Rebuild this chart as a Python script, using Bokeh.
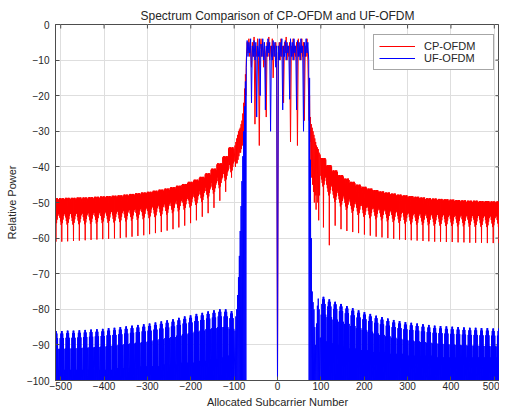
import numpy as np
from bokeh.plotting import figure
from bokeh.models import Range1d, FixedTicker, Legend, LegendItem
from bokeh.embed import file_html
from bokeh.resources import INLINE

FONT = "Liberation Sans"
TXT = "#262626"
AXC = "#4d4d4d"

# ---------------- data ----------------
x_min, x_max = -512, 512
x_ticks = [-500, -400, -300, -200, -100, 0, 100, 200, 300, 400, 500]
y_ticks = [-100, -90, -80, -70, -60, -50, -40, -30, -20, -10, 0]

# in-band, every 2nd subcarrier from -72 to 72
inband_x = list(range(-72, 73, 2))
uf_inband = [-12, -4.5, -9, -5, -8, -4, -22, -6, -9, -4.5, -10, -5, -26, -6, -9, -4, -20, -5.5,
             -9, -4, -10, -5, -24, -6, -9, -4, -8, -5, -30, -6, -10, -4.5, -9, -5, -12, -6,
             -100,
             -6, -10, -5, -9, -4, -24, -6, -9, -4.5, -10, -5, -8, -6, -21, -4, -9, -5, -10,
             -4, -8, -6, -24, -4.5, -9, -5, -10, -4, -8, -6, -30, -5, -9, -4, -8, -5, -10]
cp_inband = [-10, -5, -8, -4, -9, -6, -12, -5, -9, -3.5, -28, -6, -9, -4, -10, -34, -7, -4,
             -9, -5, -12, -6, -8, -26, -5, -9, -3.5, -10, -6, -9, -4, -15, -6, -9, -5, -8,
             -100,
             -8, -5, -10, -4, -9, -6, -22, -5, -8, -3.5, -10, -6, -9, -5, -33, -6, -9, -4,
             -10, -6, -9, -5, -34, -4, -9, -6, -10, -4, -9, -5, -27, -6, -9, -4, -10, -22]

# band-edge roll-off, every 2nd subcarrier
edge_left_x = [-98, -96, -94, -92, -90, -88, -86, -84, -82, -80, -78, -76, -74]
uf_left_edge = [-86, -82, -80, -76, -71, -65, -58, -51, -44, -37, -30, -23, -16]
cp_left_edge_top = [-34, -33, -32, -31, -30, -29.5, -29, -28, -27, -25, -22, -18, -14]
cp_left_edge_low = [-40, -39, -39, -38, -37, -36, -36, -35, -34, -33, -30, -26, -20]

edge_right_x = [74, 76, 78, 80, 82, 84, 86, 88, 90, 92, 94, 96, 98]
uf_right_edge = [-15, -38, -60, -75, -78, -80, -85, -90, -84, -79, -77, -80, -88]
cp_right_edge_top = [-20, -26, -28, -29, -30, -31, -32, -33, -34, -34.5, -35, -36, -36.5]
cp_right_edge_low = [-27, -33, -40, -43, -45, -47, -50, -48, -52, -48, -50, -55, -48]

# out-of-band sidelobe teeth, nearest the band edge first (|x| = 106, 119.5, 133, ...)
tooth_first = 106
tooth_pitch = 13.5
uf_left_peak = [-80.5, -80, -80, -80.3, -80.6, -81, -81.3, -81.7, -82, -82.4, -82.8, -83.1,
                -83.4, -83.7, -84, -84.2, -84.4, -84.6, -84.8, -85, -85.2, -85.3, -85.5,
                -85.6, -85.7, -85.8, -85.9, -86, -86, -86.1, -86.1]
uf_left_notch = [-93, -93.5, -94, -94, -94.5, -94.5, -95, -95, -95, -95.5, -95.5, -95.5, -96,
                 -96, -96, -96, -96.5, -96.5, -96.5, -96.5, -97, -97, -97, -97, -97, -97,
                 -97, -97, -97, -97, -97]
uf_right_peak = [-76.5, -77.2, -77.9, -78.5, -79.1, -79.7, -80.3, -80.8, -81.3, -81.8, -82.2,
                 -82.6, -83, -83.3, -83.6, -83.8, -84, -84.2, -84.4, -84.6, -84.7, -84.8,
                 -84.9, -85, -85.1, -85.2, -85.2, -85.3, -85.3, -85.4, -85.4]
uf_right_notch = [-88, -89, -89.5, -90, -90.5, -91, -91, -91.5, -91.5, -92, -92, -92, -92.5,
                  -92.5, -92.5, -93, -93, -93, -93, -93, -93.5, -93.5, -93.5, -93.5, -93.5,
                  -93.5, -93.5, -93.5, -93.5, -93.5, -93.5]

cp_left_top = [-34.5, -37, -39, -40.5, -41.8, -42.8, -43.6, -44.2, -44.8, -45.3, -45.7, -46.1,
               -46.4, -46.7, -47, -47.2, -47.4, -47.6, -47.8, -48, -48.1, -48.2, -48.3, -48.4,
               -48.5, -48.6, -48.6, -48.7, -48.7, -48.8, -48.8]
cp_left_body = [-40, -42.5, -44.5, -46, -47.3, -48.3, -49.2, -49.9, -50.5, -51, -51.5, -51.9,
                -52.3, -52.6, -52.9, -53.2, -53.4, -53.6, -53.8, -54, -54.1, -54.2, -54.3,
                -54.4, -54.5, -54.6, -54.6, -54.7, -54.7, -54.8, -54.8]
cp_left_dip = [-43, -47, -49.5, -51.5, -53, -54, -55, -55.8, -56.5, -57, -57.5, -57.9, -58.3,
               -58.6, -58.9, -59.2, -59.4, -59.6, -59.8, -60, -60.1, -60.2, -60.3, -60.4,
               -60.5, -60.6, -60.7, -60.8, -60.9, -61, -61]
cp_right_top = [-37.5, -39.5, -41, -42.3, -43.3, -44.2, -45, -45.6, -46.1, -46.5, -46.9, -47.2,
                -47.5, -47.8, -48, -48.2, -48.4, -48.6, -48.8, -48.9, -49, -49.1, -49.2,
                -49.3, -49.4, -49.5, -49.5, -49.6, -49.6, -49.7, -49.7]
cp_right_body = [-44, -46.5, -48.3, -49.6, -50.6, -51.4, -52, -52.5, -52.9, -53.2, -53.5,
                 -53.8, -54, -54.2, -54.4, -54.6, -54.7, -54.8, -54.9, -55, -55, -55.1, -55.1,
                 -55.2, -55.2, -55.3, -55.3, -55.3, -55.4, -55.4, -55.4]
cp_right_dip = [-57, -62, -56.5, -57.5, -58, -58.3, -58.6, -59, -59.3, -59.6, -59.8, -60,
                -60.2, -60.4, -60.5, -60.6, -60.7, -60.8, -60.9, -61, -61, -61.1, -61.1,
                -61.2, -61.2, -61.3, -61.3, -61.3, -61.4, -61.4, -61.4]

# ---------------- path construction ----------------
SUB = [-tooth_pitch / 2 + 0.75 * i for i in range(18)]
FLOOR = -100


def uf_tooth(c, pk, nt):
    upper = [nt, pk - 5, pk - 2, pk - 0.7, pk, pk, pk - 0.7, pk - 2, pk - 5]
    ys = [upper[i // 2] if i % 2 == 0 else FLOOR for i in range(18)]
    return [c + o for o in SUB], ys


def cp_tooth(c, top, body, dip):
    upper = [top - 0.3, top, top, top, top - 0.2, top, top, top, top - 0.4]
    lower = [body + 1.5, body + 0.5, body - 0.5, body - 1.5, dip, body - 1, body, body + 1, body + 1.5]
    ys = [upper[i // 2] if i % 2 == 0 else lower[i // 2] for i in range(18)]
    return [c + o for o in SUB], ys


n_teeth = len(uf_left_peak)
centers_left = [-(tooth_first + tooth_pitch * k) for k in range(n_teeth)]
centers_right = [tooth_first + tooth_pitch * k for k in range(n_teeth)]

# UF-OFDM path
ux, uy = [], []
for k in reversed(range(n_teeth)):
    a, b = uf_tooth(centers_left[k], uf_left_peak[k], uf_left_notch[k])
    ux += a; uy += b
for x, v in zip(edge_left_x, uf_left_edge):
    ux += [x, x + 1]; uy += [v, FLOOR]
ux += inband_x; uy += uf_inband
for x, v in zip(edge_right_x, uf_right_edge):
    ux += [x - 1, x]; uy += [FLOOR, v]
for k in range(n_teeth):
    a, b = uf_tooth(centers_right[k], uf_right_peak[k], uf_right_notch[k])
    ux += a; uy += b

# CP-OFDM path
cx, cy = [], []
for k in reversed(range(n_teeth)):
    a, b = cp_tooth(centers_left[k], cp_left_top[k], cp_left_body[k], cp_left_dip[k])
    cx += a; cy += b
for x, t, l in zip(edge_left_x, cp_left_edge_top, cp_left_edge_low):
    cx += [x, x + 1]; cy += [t, l]
cx += inband_x; cy += cp_inband
for x, t, l in zip(edge_right_x, cp_right_edge_top, cp_right_edge_low):
    cx += [x - 1, x]; cy += [l, t]
for k in range(n_teeth):
    a, b = cp_tooth(centers_right[k], cp_right_top[k], cp_right_body[k], cp_right_dip[k])
    cx += a; cy += b

# ---------------- figure ----------------
p = figure(width=499, height=410, x_range=Range1d(x_min, x_max), y_range=Range1d(-100, 0),
           output_backend="svg", toolbar_location=None,
           min_border_left=55, min_border_right=0, min_border_top=24, min_border_bottom=0)

p.title.text = "Spectrum Comparison of CP-OFDM and UF-OFDM"
p.title.align = "center"
p.title.text_font = FONT
p.title.text_font_size = "12px"
p.title.text_font_style = "normal"
p.title.text_color = TXT
p.title.standoff = 3

p.outline_line_color = AXC
p.outline_line_width = 1
p.background_fill_color = "white"
p.border_fill_color = "white"

# inward ticks on the top and right edges of the box
p.ray(x=x_ticks, y=[0] * len(x_ticks), length=4, angle=-np.pi / 2, length_units="screen",
      line_color=AXC, line_width=1)
p.ray(x=[x_max] * len(y_ticks), y=y_ticks, length=4, angle=np.pi, length_units="screen",
      line_color=AXC, line_width=1)

r_cp = p.line(cx, cy, line_color="#ff0000", line_width=1)
r_uf = p.line(ux, uy, line_color="#0000ff", line_width=1)

for ax in (p.xaxis[0], p.yaxis[0]):
    ax.major_tick_in = 4
    ax.major_tick_out = 0
    ax.minor_tick_line_color = None
    ax.axis_line_color = AXC
    ax.major_tick_line_color = AXC
    ax.major_label_text_font = FONT
    ax.major_label_text_font_size = "10px"
    ax.major_label_text_color = TXT
    ax.axis_label_text_font = FONT
    ax.axis_label_text_font_size = "11px"
    ax.axis_label_text_font_style = "normal"
    ax.axis_label_text_color = TXT

p.xaxis.ticker = FixedTicker(ticks=x_ticks)
p.yaxis.ticker = FixedTicker(ticks=y_ticks)
p.xaxis.axis_label = "Allocated Subcarrier Number"
p.yaxis.axis_label = "Relative Power"
p.xaxis.major_label_standoff = 1
p.xaxis.axis_label_standoff = 3
p.yaxis.major_label_standoff = 6
p.yaxis.axis_label_standoff = 6

p.xgrid.ticker = FixedTicker(ticks=x_ticks)
p.ygrid.ticker = FixedTicker(ticks=y_ticks)
p.grid.grid_line_color = "#dedede"
p.grid.grid_line_width = 1

legend = Legend(items=[LegendItem(label="CP-OFDM", renderers=[r_cp]),
                       LegendItem(label="UF-OFDM", renderers=[r_uf])],
                location=(318, 310))
legend.label_text_font = FONT
legend.label_text_font_size = "11px"
legend.label_text_color = TXT
legend.glyph_width = 36
legend.glyph_height = 12
legend.label_height = 12
legend.label_width = 64
legend.label_standoff = 9
legend.padding = 5
legend.spacing = 0
legend.margin = 0
legend.border_line_color = AXC
legend.border_line_width = 1
legend.background_fill_color = "white"
legend.background_fill_alpha = 1
p.add_layout(legend, "center")

open("out.html", "w").write(file_html(p, INLINE))
